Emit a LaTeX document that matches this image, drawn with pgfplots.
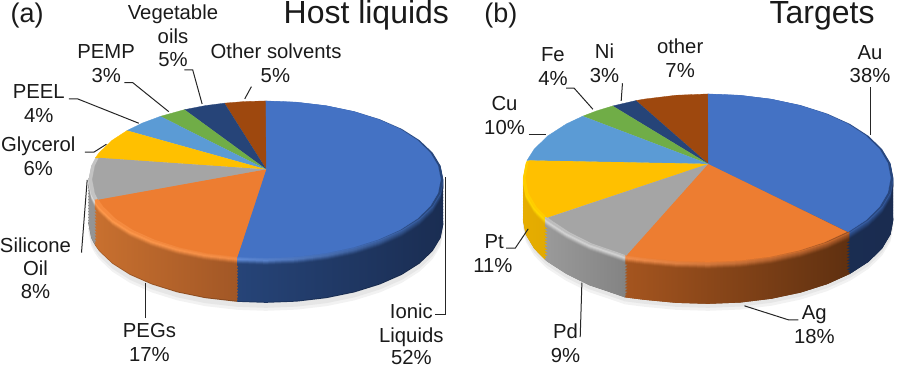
\documentclass[border=0pt]{standalone}
\usepackage{fontspec}
\usepackage{pgfplots}
\usepackage{pgfplotstable}
\pgfplotsset{compat=1.18}
\setmainfont{Liberation Sans}
\definecolor{cBlue}{HTML}{4472C4}
\definecolor{cOrange}{HTML}{ED7D31}
\definecolor{cGrey}{HTML}{A5A5A5}
\definecolor{cYellow}{HTML}{FFC000}
\definecolor{cLtBlue}{HTML}{5B9BD5}
\definecolor{cGreen}{HTML}{70AD47}
\definecolor{cNavy}{HTML}{264478}
\definecolor{cBrown}{HTML}{9E480E}
\definecolor{txt}{HTML}{1A1A1A}
\definecolor{shA}{HTML}{F2F2F2}
\definecolor{shB}{HTML}{E6E6E6}
% rim colours: highlight left, side left, highlight right, side right
\definecolor{agHL}{HTML}{E0E0E0}\definecolor{agSL}{HTML}{949494}\definecolor{agHR}{HTML}{E0E0E0}\definecolor{agSR}{HTML}{949494}
\definecolor{abHL}{HTML}{5F8AD6}\definecolor{abSL}{HTML}{264478}\definecolor{abHR}{HTML}{264478}\definecolor{abSR}{HTML}{1A2D52}
\definecolor{aoHL}{HTML}{FF9A4D}\definecolor{aoSL}{HTML}{C8702F}\definecolor{aoHR}{HTML}{F08A45}\definecolor{aoSR}{HTML}{9A5224}
\definecolor{byHL}{HTML}{FFD900}\definecolor{bySL}{HTML}{E6AD00}\definecolor{byHR}{HTML}{FFD000}\definecolor{bySR}{HTML}{C89600}
\definecolor{bgHL}{HTML}{D4D4D4}\definecolor{bgSL}{HTML}{9A9A9A}\definecolor{bgHR}{HTML}{D0D0D0}\definecolor{bgSR}{HTML}{6C6C6C}
\definecolor{bbHL}{HTML}{3A5FA5}\definecolor{bbSL}{HTML}{1B2F55}\definecolor{bbHR}{HTML}{27457C}\definecolor{bbSR}{HTML}{1A2C50}
\definecolor{boHL}{HTML}{F28E4B}\definecolor{boSL}{HTML}{A5551F}\definecolor{boHR}{HTML}{9A5022}\definecolor{boSR}{HTML}{5F3010}
% ---------- pie (a) outline points, pixels
\pgfplotstableread{
x y
266 169.5
265.5 101.0
296.3 102.2
326.2 105.7
354.25 111.5
379.6 119.4
401.5 129.0
419.2 140.25
432.3 152.7
440.3 165.9
443 179.5
440.3 193.1
432.3 206.3
419.2 218.75
401.5 230.0
379.6 239.6
354.25 247.5
326.2 253.3
296.3 256.8
265.5 258
236.8 257.0
}\aBlue
\pgfplotstableread{
x y
266 169.5
236.8 257.0
204.8 253.3
176.75 247.5
151.4 239.6
129.5 230.0
111.8 218.75
98.7 206.3
94.1 199.8
}\aOrange
\pgfplotstableread{
x y
266 169.5
94.1 199.8
90.7 193.1
88 179.5
90.7 165.9
94.9 157.9
}\aGrey
\pgfplotstableread{
x y
266 169.5
94.9 157.9
98.7 152.7
111.8 140.25
126.6 130.6
}\aYellow
\pgfplotstableread{
x y
266 169.5
126.6 130.6
142.2 123.0
160 116.4
}\aLtBlue
\pgfplotstableread{
x y
266 169.5
160 116.4
184.1 109.7
}\aGreen
\pgfplotstableread{
x y
266 169.5
184.1 109.7
204.8 105.7
224.1 103.2
}\aNavy
\pgfplotstableread{
x y
266 169.5
224.1 103.2
243.9 101.6
265.5 101.0
}\aBrown
% ---------- pie (b) outline points, pixels
\pgfplotstableread{
x y
708.3 164
708 94.0
740.2 95.3
771.4 99.1
800.65 105.3
827.1 113.7
849.9 124.0
868.5 136
882.1 149.3
890.5 163.4
893.3 178
890.5 192.6
882.1 206.7
868.5 220
849.9 232
}\bBlue
\pgfplotstableread{
x y
708.3 164
849.9 232
827.1 242.3
800.65 250.7
771.4 256.9
740.2 260.7
708 262
675.8 261
644.6 258
624.7 255.5
}\bOrange
\pgfplotstableread{
x y
708.3 164
624.7 255.5
615.35 252.2
588.9 243.3
566.1 232
547.5 220
544.5 217.6
}\bGrey
\pgfplotstableread{
x y
708.3 164
544.5 217.6
533.9 206.7
525.5 192.6
522.7 178
525.5 163.4
526.8 160.5
}\bYellow
\pgfplotstableread{
x y
708.3 164
526.8 160.5
533.9 149.3
547.5 136
566.1 124
582.6 116.2
}\bLtBlue
\pgfplotstableread{
x y
708.3 164
582.6 116.2
596.5 110.9
612.6 106
}\bGreen
\pgfplotstableread{
x y
708.3 164
612.6 106
635.9 100.6
}\bNavy
\pgfplotstableread{
x y
708.3 164
635.9 100.6
644.6 99.1
675.8 95.3
708 94
}\bBrown
% one layer of the rim: table, left colour, right colour, depth
\newcommand\lay[4]{\addplot[draw=none,shade,left color=#2,right color=#3] table[x=x,y expr=\thisrow{y}+#4]{#1};}
% the bottom of a slice's side
\newcommand\deep[4]{\lay{#1}{#2!82!black}{#3!82!black}{#4}\lay{#1}{#2}{#3}{#4-1}}
% table, face, highlight L, side L, highlight R, side R
\newcommand\stack[6]{%
 \pgfplotsinvokeforeach{42,39,36,33,30,27,24,21,18,15,12,9}{\lay{#1}{#4}{#6}{##1}}%
 \lay{#1}{#4}{#6}{8}%
 \lay{#1}{#4!90!#3}{#6!90!#5}{7}%
 \lay{#1}{#4!70!#3}{#6!70!#5}{6}%
 \lay{#1}{#4!45!#3}{#6!45!#5}{5}%
 \lay{#1}{#4!20!#3}{#6!20!#5}{4}%
 \lay{#1}{#3}{#5}{3}%
 \lay{#1}{#3!80!#2}{#5!80!#2}{2}%
 \lay{#1}{#3!50!#2}{#5!50!#2}{1}%
 \lay{#1}{#3!50!#2}{#5}{0}%
}
\newcommand\face[4]{\addplot[fill=#2,draw=#2,line width=0.3pt] table[x expr={#3+(\thisrow{x}-#3)*#4},y=y]{#1};}
\newcommand\backface[2]{\addplot[fill=#2,draw=#2,line width=0.3pt] table[x=x,y=y]{#1};}
\newcommand\lab[3]{\node[anchor=base,inner sep=0pt,text=txt,font=\fontsize{20.3}{24}\selectfont] at (axis cs:#1,#2) {#3};}
\newcommand\ttl[4]{\node[anchor=base,inner sep=0pt,text=txt,font=\fontsize{#4}{#4}\selectfont] at (axis cs:#1,#2) {#3};}
\newcommand\lead[1]{\addplot[black!85,line width=1pt] coordinates {#1};}
\begin{document}
\begin{tikzpicture}
\begin{axis}[
  scale only axis,width=908pt,height=367pt,
  xmin=0,xmax=908,ymin=0,ymax=367,y dir=reverse,
  hide axis,clip=false]
\addplot[draw=none] coordinates {(0,0)(908,367)};
% --- shadows
\lay{\aGrey}{shA}{shA}{53}
\lay{\aOrange}{shA}{shA}{53}
\lay{\aBlue}{shA}{shA}{53}
\lay{\aGrey}{shB}{shB}{50}
\lay{\aOrange}{shB}{shB}{50}
\lay{\aBlue}{shB}{shB}{50}
\lay{\bYellow}{shA}{shA}{49}
\lay{\bGrey}{shA}{shA}{49}
\lay{\bOrange}{shA}{shA}{49}
\lay{\bBlue}{shA}{shA}{49}
\lay{\bYellow}{shB}{shB}{46}
\lay{\bGrey}{shB}{shB}{46}
\lay{\bOrange}{shB}{shB}{46}
\lay{\bBlue}{shB}{shB}{46}
% --- pie (a) rims
\deep{\aGrey}{agSL}{agSR}{45}
\stack{\aGrey}{cGrey}{agHL}{agSL}{agHR}{agSR}
\deep{\aOrange}{aoSL}{aoSR}{45}
\stack{\aOrange}{cOrange}{aoHL}{aoSL}{aoHR}{aoSR}
\deep{\aBlue}{abSL}{abSR}{45}
\stack{\aBlue}{cBlue}{abHL}{abSL}{abHR}{abSR}
% --- pie (a) faces
\backface{\aBrown}{cBrown}
\backface{\aNavy}{cNavy}
\backface{\aGreen}{cGreen}
\backface{\aLtBlue}{cLtBlue}
\backface{\aYellow}{cYellow}
\face{\aGrey}{cGrey}{265.5}{0.978}
\face{\aOrange}{cOrange}{265.5}{0.975}
\face{\aBlue}{cBlue}{265.5}{0.985}
% --- pie (b) rims
\deep{\bYellow}{bySL}{bySR}{42}
\stack{\bYellow}{cYellow}{byHL}{bySL}{byHR}{bySR}
\deep{\bGrey}{bgSL}{bgSR}{42}
\stack{\bGrey}{cGrey}{bgHL}{bgSL}{bgHR}{bgSR}
\deep{\bBlue}{bbSL}{bbSR}{42}
\stack{\bBlue}{cBlue}{bbHL}{bbSL}{bbHR}{bbSR}
\deep{\bOrange}{boSL}{boSR}{42}
\stack{\bOrange}{cOrange}{boHL}{boSL}{boHR}{boSR}
% --- pie (b) faces
\backface{\bBrown}{cBrown}
\backface{\bNavy}{cNavy}
\backface{\bGreen}{cGreen}
\backface{\bLtBlue}{cLtBlue}
\face{\bYellow}{cYellow}{708}{0.985}
\face{\bGrey}{cGrey}{708}{0.977}
\face{\bOrange}{cOrange}{708}{0.977}
\face{\bBlue}{cBlue}{708}{0.985}
% --- leaders (a)
\lead{(251,86.7)(244.3,99)}
\lead{(184,70)(192.3,70)(201.7,104)}
\lead{(124,82.7)(132.3,82.7)(168.3,111.7)}
\lead{(68.3,99)(77.3,99)(138.3,123.3)}
\lead{(84.3,152.3)(93.3,152.3)(106,144.3)}
\lead{(81,252.7)(86.7,180)}
\lead{(145,318.3)(145,283.3)}
\lead{(435,315)(445,315)(445,176.7)}
% --- leaders (b)
\lead{(870.3,87.3)(870.3,135)}
\lead{(622.3,83.3)(621,101)}
\lead{(566,88.3)(574,88.3)(592.7,109.3)}
\lead{(528.3,135)(545.7,135)}
\lead{(506,248.3)(515,248.3)(528,229)}
\lead{(580,337.3)(581.7,282.7)}
\lead{(798.3,320)(788.3,320)(744.3,306)}
% --- text (a)
\ttl{26.7}{22.7}{(a)}{27}
\ttl{366}{24}{Host liquids}{32}
\lab{172.5}{20}{Vegetable}\lab{172.5}{43.3}{oils}\lab{172.5}{66.7}{5\%}
\lab{275.7}{59}{Other solvents}\lab{275}{82.7}{5\%}
\lab{105.7}{59}{PEMP}\lab{105.7}{82.7}{3\%}
\lab{38.3}{98.3}{PEEL}\lab{38.3}{122.3}{4\%}
\lab{37.7}{152}{Glycerol}\lab{37.7}{175.7}{6\%}
\lab{35}{252.3}{Silicone}\lab{35}{275.7}{Oil}\lab{35}{299}{8\%}
\lab{149}{337.7}{PEGs}\lab{149}{361.7}{17\%}
\lab{411}{319}{Ionic}\lab{411}{342.3}{Liquids}\lab{411}{364.5}{52\%}
% --- text (b)
\ttl{500.7}{22.7}{(b)}{27}
\ttl{822}{24}{Targets}{32}
\lab{870}{59.3}{Au}\lab{870}{82.7}{38\%}
\lab{680}{53.3}{other}\lab{680}{77.3}{7\%}
\lab{604.3}{59}{Ni}\lab{604.3}{82.7}{3\%}
\lab{552.7}{61.7}{Fe}\lab{552.7}{85.7}{4\%}
\lab{504.3}{111}{Cu}\lab{504.3}{135}{10\%}
\lab{494}{248.3}{Pt}\lab{492.7}{272.3}{11\%}
\lab{565.3}{338.3}{Pd}\lab{565.3}{362.3}{9\%}
\lab{814.3}{320}{Ag}\lab{814.3}{343.3}{18\%}
\end{axis}
\end{tikzpicture}
\end{document}
